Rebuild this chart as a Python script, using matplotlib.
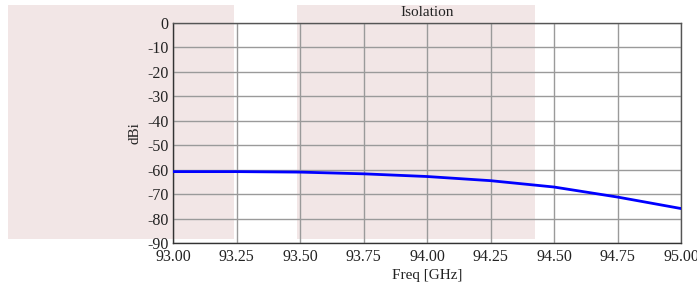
import matplotlib
matplotlib.use("Agg")
import matplotlib.pyplot as plt
from matplotlib.patches import Rectangle

freq = [93.0, 93.25, 93.5, 93.75, 94.0, 94.25, 94.5, 94.75, 95.0]
isolation = [-60.8, -60.8, -61.0, -61.7, -62.8, -64.5, -67.1, -71.2, -75.9]
xticks = [93.0, 93.25, 93.5, 93.75, 94.0, 94.25, 94.5, 94.75, 95.0]
yticks = [0, -10, -20, -30, -40, -50, -60, -70, -80, -90]

plt.rcParams['font.family'] = ['Liberation Serif', 'DejaVu Serif']
plt.rcParams['axes.unicode_minus'] = False

W, H = 697, 288
fig = plt.figure(figsize=(W/100, H/100), dpi=100)
ax = fig.add_axes([173/W, 1-243/H, (681-173)/W, (243-23)/H])
ax.patch.set_visible(False)

pink = '#f2e6e6'
for (x0, x1) in [(8, 234), (297, 535)]:
    fig.patches.append(Rectangle((x0/W, 1-239/H), (x1-x0)/W, (239-5)/H,
                                 transform=fig.transFigure, facecolor=pink,
                                 edgecolor='none', zorder=-10))

ax.plot(freq, isolation, color='#0000ff', lw=2, zorder=3)
ax.set_xlim(93, 95)
ax.set_ylim(-90, 0)
ax.set_xticks(xticks)
ax.set_xticklabels([f"{v:.2f}" for v in xticks])
ax.set_yticks(yticks)
ax.set_yticklabels([str(v) for v in yticks])
ax.grid(True, color='#9a9a9a', lw=1)
ax.tick_params(axis='y', length=0, labelsize=11.5, colors='#222222', pad=3)
ax.tick_params(axis='x', length=0, labelsize=11.5, colors='#222222', pad=4.5)
for s in ax.spines.values():
    s.set_color('#555555')
    s.set_linewidth(1)
ax.spines['left'].set_color('#333333')
ax.spines['bottom'].set_color('#333333')
ax.set_xlabel('Freq [GHz]', fontsize=11, color='#222222', labelpad=3)
ax.set_ylabel('dBi', fontsize=11, color='#222222', labelpad=4)
ax.set_title('Isolation', fontsize=11, color='#222222', pad=5)

fig.savefig('out.png', dpi=100)
